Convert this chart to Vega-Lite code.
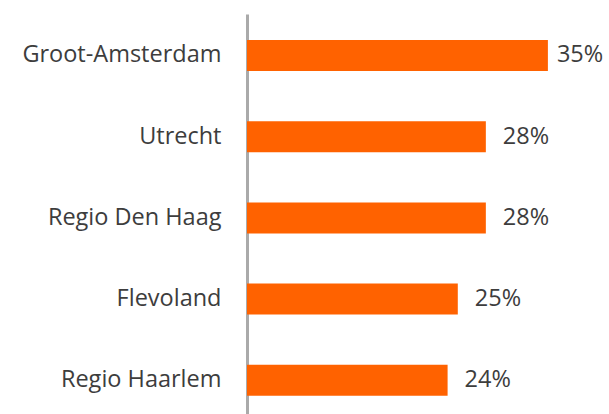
{
  "$schema": "https://vega.github.io/schema/vega-lite/v6.json",
  "autosize": "none",
  "width": 340,
  "height": 400,
  "padding": {"left": 247, "top": 14, "right": 22, "bottom": 0},
  "background": "white",
  "config": {"view": {"stroke": null}},
  "data": {
    "values": [
      {"region": "Groot-Amsterdam", "share": 35.4, "label": "35%"},
      {"region": "Utrecht", "share": 28.1, "label": "28%"},
      {"region": "Regio Den Haag", "share": 28.1, "label": "28%"},
      {"region": "Flevoland\u00a0", "share": 24.8, "label": "25%"},
      {"region": "Regio Haarlem", "share": 23.6, "label": "24%"}
    ]
  },
  "encoding": {
    "y": {
      "field": "region", "type": "nominal", "sort": null,
      "scale": {"paddingInner": 0.618, "paddingOuter": 0.272, "align": 0.588},
      "axis": {
        "title": null, "ticks": false, "domainColor": "#AAAAAA", "domainWidth": 3,
        "labelFont": "Open Sans", "labelFontSize": 23.5, "labelColor": "#3d3d3d",
        "labelPadding": 26, "labelLimit": 300
      }
    },
    "x": {
      "field": "share", "type": "quantitative",
      "scale": {"domain": [0, 40]},
      "axis": null
    }
  },
  "layer": [
    {"mark": {"type": "bar", "color": "#FF6200"}},
    {
      "transform": [{"filter": "datum.share < 35"}],
      "mark": {"type": "text", "align": "left", "baseline": "middle", "dx": 17, "font": "Open Sans", "fontSize": 23.5, "color": "#3d3d3d"},
      "encoding": {"text": {"field": "label"}}
    },
    {
      "transform": [{"filter": "datum.share >= 35"}],
      "mark": {"type": "text", "align": "left", "baseline": "middle", "dx": 9, "font": "Open Sans", "fontSize": 23.5, "color": "#3d3d3d"},
      "encoding": {"text": {"field": "label"}}
    }
  ]
}
